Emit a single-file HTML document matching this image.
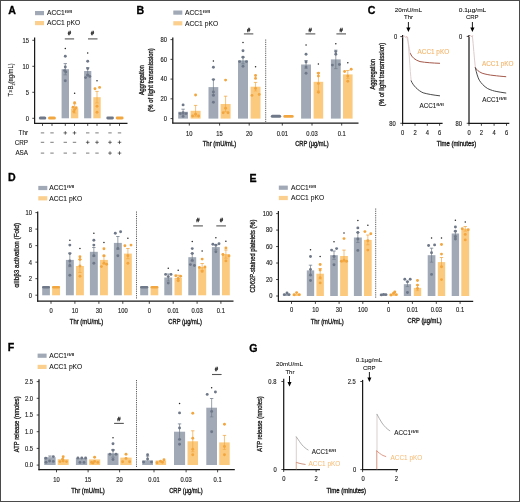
<!DOCTYPE html>
<html><head><meta charset="utf-8"><style>
html,body{margin:0;padding:0;background:#fff;}
svg{display:block;font-family:"Liberation Sans", sans-serif;filter:blur(0.35px);}
</style></head><body>
<svg width="520" height="502" viewBox="0 0 520 502">
<rect width="520" height="502" fill="#fff"/>
<rect x="0.5" y="0.5" width="519" height="501" fill="none" stroke="#4a4a4a" stroke-width="1"/>
<text x="8.13" y="14.49" font-size="10.6" font-weight="bold" fill="#000" stroke="#000" stroke-width="0.3">A</text>
<rect x="35.00" y="11.00" width="9.00" height="4.20" fill="#a0a9b5"/>
<rect x="35.00" y="21.00" width="9.00" height="4.20" fill="#fbcf8e"/>
<text x="47.00" y="15.41" font-size="6.7" text-anchor="start" fill="#1a1a1a" stroke="#1a1a1a" stroke-width="0.1">ACC1<tspan font-size="4.4" dy="-2.1" textLength="7.4" lengthAdjust="spacingAndGlyphs">fl/fl</tspan></text>
<text x="47.00" y="25.41" font-size="6.7" text-anchor="start" fill="#1a1a1a" stroke="#1a1a1a" stroke-width="0.1">ACC1 pKO</text>
<line x1="34.60" y1="37.50" x2="34.60" y2="123.80" stroke="#1a1a1a" stroke-width="1.25"/>
<line x1="34.10" y1="123.30" x2="127.50" y2="123.30" stroke="#1a1a1a" stroke-width="1.25"/>
<line x1="32.30" y1="118.30" x2="34.60" y2="118.30" stroke="#1a1a1a" stroke-width="0.8"/>
<text x="29.00" y="120.68" font-size="6.6" text-anchor="end" fill="#222" textLength="3.23" lengthAdjust="spacingAndGlyphs" stroke="#222" stroke-width="0.14">0</text>
<line x1="32.30" y1="92.30" x2="34.60" y2="92.30" stroke="#1a1a1a" stroke-width="0.8"/>
<text x="29.00" y="94.68" font-size="6.6" text-anchor="end" fill="#222" textLength="3.23" lengthAdjust="spacingAndGlyphs" stroke="#222" stroke-width="0.14">5</text>
<line x1="32.30" y1="66.30" x2="34.60" y2="66.30" stroke="#1a1a1a" stroke-width="0.8"/>
<text x="29.00" y="68.68" font-size="6.6" text-anchor="end" fill="#222" textLength="6.46" lengthAdjust="spacingAndGlyphs" stroke="#222" stroke-width="0.14">10</text>
<line x1="32.30" y1="40.30" x2="34.60" y2="40.30" stroke="#1a1a1a" stroke-width="0.8"/>
<text x="29.00" y="42.68" font-size="6.6" text-anchor="end" fill="#222" textLength="6.46" lengthAdjust="spacingAndGlyphs" stroke="#222" stroke-width="0.14">15</text>
<text transform="translate(10.60,79.90) rotate(-90)" x="0" y="2.52" font-size="7.0" text-anchor="middle" fill="#1a1a1a" textLength="33" lengthAdjust="spacingAndGlyphs" stroke="#1a1a1a" stroke-width="0.12">T×B<tspan font-size="4.4" dy="1.6">2</tspan><tspan dy="-1.6">(ng/mL)</tspan></text>
<line x1="42.50" y1="123.30" x2="42.50" y2="125.90" stroke="#1a1a1a" stroke-width="0.8"/>
<line x1="52.00" y1="123.30" x2="52.00" y2="125.90" stroke="#1a1a1a" stroke-width="0.8"/>
<line x1="65.30" y1="123.30" x2="65.30" y2="125.90" stroke="#1a1a1a" stroke-width="0.8"/>
<line x1="74.50" y1="123.30" x2="74.50" y2="125.90" stroke="#1a1a1a" stroke-width="0.8"/>
<line x1="87.70" y1="123.30" x2="87.70" y2="125.90" stroke="#1a1a1a" stroke-width="0.8"/>
<line x1="97.00" y1="123.30" x2="97.00" y2="125.90" stroke="#1a1a1a" stroke-width="0.8"/>
<line x1="110.00" y1="123.30" x2="110.00" y2="125.90" stroke="#1a1a1a" stroke-width="0.8"/>
<line x1="119.50" y1="123.30" x2="119.50" y2="125.90" stroke="#1a1a1a" stroke-width="0.8"/>
<rect x="38.80" y="116.60" width="7.50" height="3.00" rx="1.50" fill="#6e7888"/>
<rect x="48.00" y="116.60" width="7.90" height="3.00" rx="1.50" fill="#f2a640"/>
<rect x="106.30" y="116.60" width="7.60" height="2.80" rx="1.40" fill="#6e7888"/>
<rect x="115.70" y="116.60" width="7.90" height="2.80" rx="1.40" fill="#f2a640"/>
<rect x="61.60" y="69.20" width="7.40" height="49.10" fill="#a0a9b5"/>
<line x1="65.30" y1="74.80" x2="65.30" y2="63.60" stroke="#6e7888" stroke-width="0.7"/>
<line x1="63.60" y1="63.60" x2="67.00" y2="63.60" stroke="#6e7888" stroke-width="0.75"/>
<line x1="63.60" y1="74.80" x2="67.00" y2="74.80" stroke="#6e7888" stroke-width="0.6"/>
<circle cx="65.30" cy="56.20" r="1.45" fill="#6e7888"/>
<circle cx="65.30" cy="67.00" r="1.45" fill="#6e7888"/>
<circle cx="64.60" cy="70.60" r="1.45" fill="#6e7888"/>
<circle cx="65.80" cy="72.00" r="1.45" fill="#6e7888"/>
<circle cx="65.30" cy="80.80" r="1.45" fill="#6e7888"/>
<circle cx="65.30" cy="48.60" r="0.75" fill="#222"/>
<rect x="70.90" y="108.40" width="7.40" height="9.90" fill="#fcca7e"/>
<line x1="74.60" y1="113.00" x2="74.60" y2="103.80" stroke="#f2a640" stroke-width="0.7"/>
<line x1="72.90" y1="103.80" x2="76.30" y2="103.80" stroke="#f2a640" stroke-width="0.75"/>
<line x1="72.90" y1="113.00" x2="76.30" y2="113.00" stroke="#f2a640" stroke-width="0.6"/>
<circle cx="74.60" cy="102.80" r="1.45" fill="#f2a640"/>
<circle cx="73.00" cy="107.20" r="1.45" fill="#f2a640"/>
<circle cx="76.20" cy="107.80" r="1.45" fill="#f2a640"/>
<circle cx="73.80" cy="111.60" r="1.45" fill="#f2a640"/>
<circle cx="74.60" cy="109.60" r="1.45" fill="#f2a640"/>
<circle cx="74.60" cy="93.20" r="0.75" fill="#222"/>
<rect x="84.10" y="71.00" width="7.20" height="47.30" fill="#a0a9b5"/>
<line x1="87.70" y1="74.40" x2="87.70" y2="67.60" stroke="#6e7888" stroke-width="0.7"/>
<line x1="86.00" y1="67.60" x2="89.40" y2="67.60" stroke="#6e7888" stroke-width="0.75"/>
<line x1="86.00" y1="74.40" x2="89.40" y2="74.40" stroke="#6e7888" stroke-width="0.6"/>
<circle cx="87.70" cy="61.20" r="1.45" fill="#6e7888"/>
<circle cx="87.70" cy="68.60" r="1.45" fill="#6e7888"/>
<circle cx="85.60" cy="77.60" r="1.45" fill="#6e7888"/>
<circle cx="89.80" cy="76.40" r="1.45" fill="#6e7888"/>
<circle cx="87.70" cy="75.20" r="1.45" fill="#6e7888"/>
<circle cx="87.70" cy="53.00" r="0.75" fill="#222"/>
<rect x="93.30" y="97.20" width="7.40" height="21.10" fill="#fcca7e"/>
<line x1="97.00" y1="103.00" x2="97.00" y2="91.40" stroke="#f2a640" stroke-width="0.7"/>
<line x1="95.30" y1="91.40" x2="98.70" y2="91.40" stroke="#f2a640" stroke-width="0.75"/>
<line x1="95.30" y1="103.00" x2="98.70" y2="103.00" stroke="#f2a640" stroke-width="0.6"/>
<circle cx="95.00" cy="88.80" r="1.45" fill="#f2a640"/>
<circle cx="99.60" cy="87.40" r="1.45" fill="#f2a640"/>
<circle cx="97.00" cy="106.20" r="1.45" fill="#f2a640"/>
<circle cx="97.00" cy="112.20" r="1.45" fill="#f2a640"/>
<circle cx="97.00" cy="80.80" r="0.75" fill="#222"/>
<text x="28.00" y="135.17" font-size="6.3" text-anchor="end" fill="#1a1a1a" stroke="#1a1a1a" stroke-width="0.1">Thr</text>
<line x1="40.80" y1="132.90" x2="44.20" y2="132.90" stroke="#333" stroke-width="0.65"/>
<line x1="50.30" y1="132.90" x2="53.70" y2="132.90" stroke="#333" stroke-width="0.65"/>
<line x1="63.50" y1="132.90" x2="67.10" y2="132.90" stroke="#222" stroke-width="0.65"/>
<line x1="65.30" y1="131.10" x2="65.30" y2="134.70" stroke="#222" stroke-width="0.65"/>
<line x1="72.70" y1="132.90" x2="76.30" y2="132.90" stroke="#222" stroke-width="0.65"/>
<line x1="74.50" y1="131.10" x2="74.50" y2="134.70" stroke="#222" stroke-width="0.65"/>
<line x1="86.00" y1="132.90" x2="89.40" y2="132.90" stroke="#333" stroke-width="0.65"/>
<line x1="95.30" y1="132.90" x2="98.70" y2="132.90" stroke="#333" stroke-width="0.65"/>
<line x1="108.30" y1="132.90" x2="111.70" y2="132.90" stroke="#333" stroke-width="0.65"/>
<line x1="117.80" y1="132.90" x2="121.20" y2="132.90" stroke="#333" stroke-width="0.65"/>
<text x="28.00" y="144.57" font-size="6.3" text-anchor="end" fill="#1a1a1a" stroke="#1a1a1a" stroke-width="0.1">CRP</text>
<line x1="40.80" y1="142.30" x2="44.20" y2="142.30" stroke="#333" stroke-width="0.65"/>
<line x1="50.30" y1="142.30" x2="53.70" y2="142.30" stroke="#333" stroke-width="0.65"/>
<line x1="63.60" y1="142.30" x2="67.00" y2="142.30" stroke="#333" stroke-width="0.65"/>
<line x1="72.80" y1="142.30" x2="76.20" y2="142.30" stroke="#333" stroke-width="0.65"/>
<line x1="85.90" y1="142.30" x2="89.50" y2="142.30" stroke="#222" stroke-width="0.65"/>
<line x1="87.70" y1="140.50" x2="87.70" y2="144.10" stroke="#222" stroke-width="0.65"/>
<line x1="95.20" y1="142.30" x2="98.80" y2="142.30" stroke="#222" stroke-width="0.65"/>
<line x1="97.00" y1="140.50" x2="97.00" y2="144.10" stroke="#222" stroke-width="0.65"/>
<line x1="108.20" y1="142.30" x2="111.80" y2="142.30" stroke="#222" stroke-width="0.65"/>
<line x1="110.00" y1="140.50" x2="110.00" y2="144.10" stroke="#222" stroke-width="0.65"/>
<line x1="117.70" y1="142.30" x2="121.30" y2="142.30" stroke="#222" stroke-width="0.65"/>
<line x1="119.50" y1="140.50" x2="119.50" y2="144.10" stroke="#222" stroke-width="0.65"/>
<text x="28.00" y="155.37" font-size="6.3" text-anchor="end" fill="#1a1a1a" stroke="#1a1a1a" stroke-width="0.1">ASA</text>
<line x1="40.80" y1="153.10" x2="44.20" y2="153.10" stroke="#333" stroke-width="0.65"/>
<line x1="50.30" y1="153.10" x2="53.70" y2="153.10" stroke="#333" stroke-width="0.65"/>
<line x1="63.60" y1="153.10" x2="67.00" y2="153.10" stroke="#333" stroke-width="0.65"/>
<line x1="72.80" y1="153.10" x2="76.20" y2="153.10" stroke="#333" stroke-width="0.65"/>
<line x1="86.00" y1="153.10" x2="89.40" y2="153.10" stroke="#333" stroke-width="0.65"/>
<line x1="95.30" y1="153.10" x2="98.70" y2="153.10" stroke="#333" stroke-width="0.65"/>
<line x1="108.20" y1="153.10" x2="111.80" y2="153.10" stroke="#222" stroke-width="0.65"/>
<line x1="110.00" y1="151.30" x2="110.00" y2="154.90" stroke="#222" stroke-width="0.65"/>
<line x1="117.70" y1="153.10" x2="121.30" y2="153.10" stroke="#222" stroke-width="0.65"/>
<line x1="119.50" y1="151.30" x2="119.50" y2="154.90" stroke="#222" stroke-width="0.65"/>
<text x="136.39" y="14.19" font-size="10.6" font-weight="bold" fill="#000" stroke="#000" stroke-width="0.3">B</text>
<rect x="173.30" y="10.50" width="9.00" height="4.20" fill="#a0a9b5"/>
<rect x="173.30" y="21.20" width="9.00" height="4.20" fill="#fbcf8e"/>
<text x="185.00" y="14.91" font-size="6.7" text-anchor="start" fill="#1a1a1a" stroke="#1a1a1a" stroke-width="0.1">ACC1<tspan font-size="4.4" dy="-2.1" textLength="7.4" lengthAdjust="spacingAndGlyphs">fl/fl</tspan></text>
<text x="185.00" y="25.61" font-size="6.7" text-anchor="start" fill="#1a1a1a" stroke="#1a1a1a" stroke-width="0.1">ACC1 pKO</text>
<line x1="172.80" y1="37.50" x2="172.80" y2="123.50" stroke="#1a1a1a" stroke-width="1.25"/>
<line x1="172.30" y1="123.00" x2="358.50" y2="123.00" stroke="#1a1a1a" stroke-width="1.25"/>
<line x1="170.50" y1="118.60" x2="172.80" y2="118.60" stroke="#1a1a1a" stroke-width="0.8"/>
<text x="167.00" y="120.98" font-size="6.6" text-anchor="end" fill="#222" textLength="3.23" lengthAdjust="spacingAndGlyphs" stroke="#222" stroke-width="0.14">0</text>
<line x1="170.50" y1="98.85" x2="172.80" y2="98.85" stroke="#1a1a1a" stroke-width="0.8"/>
<text x="167.00" y="101.23" font-size="6.6" text-anchor="end" fill="#222" textLength="6.46" lengthAdjust="spacingAndGlyphs" stroke="#222" stroke-width="0.14">20</text>
<line x1="170.50" y1="79.10" x2="172.80" y2="79.10" stroke="#1a1a1a" stroke-width="0.8"/>
<text x="167.00" y="81.48" font-size="6.6" text-anchor="end" fill="#222" textLength="6.46" lengthAdjust="spacingAndGlyphs" stroke="#222" stroke-width="0.14">40</text>
<line x1="170.50" y1="59.35" x2="172.80" y2="59.35" stroke="#1a1a1a" stroke-width="0.8"/>
<text x="167.00" y="61.73" font-size="6.6" text-anchor="end" fill="#222" textLength="6.46" lengthAdjust="spacingAndGlyphs" stroke="#222" stroke-width="0.14">60</text>
<line x1="170.50" y1="39.60" x2="172.80" y2="39.60" stroke="#1a1a1a" stroke-width="0.8"/>
<text x="167.00" y="41.98" font-size="6.6" text-anchor="end" fill="#222" textLength="6.46" lengthAdjust="spacingAndGlyphs" stroke="#222" stroke-width="0.14">80</text>
<text transform="translate(141.30,80.10) rotate(-90)" x="0" y="2.38" font-size="6.6" text-anchor="middle" fill="#1a1a1a" textLength="30" lengthAdjust="spacingAndGlyphs" stroke="#1a1a1a" stroke-width="0.3">Aggregation</text>
<text transform="translate(150.90,79.90) rotate(-90)" x="0" y="2.38" font-size="6.6" text-anchor="middle" fill="#1a1a1a" textLength="63.5" lengthAdjust="spacingAndGlyphs" stroke="#1a1a1a" stroke-width="0.3">(% of light transmission)</text>
<line x1="189.30" y1="123.00" x2="189.30" y2="125.60" stroke="#1a1a1a" stroke-width="0.8"/>
<text x="189.30" y="135.58" font-size="6.6" text-anchor="middle" fill="#222" textLength="6.46" lengthAdjust="spacingAndGlyphs" stroke="#222" stroke-width="0.14">10</text>
<line x1="219.60" y1="123.00" x2="219.60" y2="125.60" stroke="#1a1a1a" stroke-width="0.8"/>
<text x="219.60" y="135.58" font-size="6.6" text-anchor="middle" fill="#222" textLength="6.46" lengthAdjust="spacingAndGlyphs" stroke="#222" stroke-width="0.14">15</text>
<line x1="249.20" y1="123.00" x2="249.20" y2="125.60" stroke="#1a1a1a" stroke-width="0.8"/>
<text x="249.20" y="135.58" font-size="6.6" text-anchor="middle" fill="#222" textLength="6.46" lengthAdjust="spacingAndGlyphs" stroke="#222" stroke-width="0.14">20</text>
<line x1="282.30" y1="123.00" x2="282.30" y2="125.60" stroke="#1a1a1a" stroke-width="0.8"/>
<text x="282.30" y="135.58" font-size="6.6" text-anchor="middle" fill="#222" textLength="11.3" lengthAdjust="spacingAndGlyphs" stroke="#222" stroke-width="0.14">0.01</text>
<line x1="312.00" y1="123.00" x2="312.00" y2="125.60" stroke="#1a1a1a" stroke-width="0.8"/>
<text x="312.00" y="135.58" font-size="6.6" text-anchor="middle" fill="#222" textLength="11.3" lengthAdjust="spacingAndGlyphs" stroke="#222" stroke-width="0.14">0.03</text>
<line x1="341.70" y1="123.00" x2="341.70" y2="125.60" stroke="#1a1a1a" stroke-width="0.8"/>
<text x="341.70" y="135.58" font-size="6.6" text-anchor="middle" fill="#222" textLength="8.07" lengthAdjust="spacingAndGlyphs" stroke="#222" stroke-width="0.14">0.1</text>
<rect x="178.20" y="111.80" width="9.80" height="6.80" fill="#a0a9b5"/>
<line x1="183.10" y1="114.40" x2="183.10" y2="109.20" stroke="#6e7888" stroke-width="0.7"/>
<line x1="181.40" y1="109.20" x2="184.80" y2="109.20" stroke="#6e7888" stroke-width="0.75"/>
<line x1="181.40" y1="114.40" x2="184.80" y2="114.40" stroke="#6e7888" stroke-width="0.6"/>
<circle cx="183.10" cy="104.90" r="1.45" fill="#6e7888"/>
<circle cx="180.20" cy="113.60" r="1.45" fill="#6e7888"/>
<circle cx="183.10" cy="112.80" r="1.45" fill="#6e7888"/>
<circle cx="186.00" cy="113.60" r="1.45" fill="#6e7888"/>
<circle cx="183.10" cy="116.40" r="1.45" fill="#6e7888"/>
<rect x="190.60" y="110.80" width="10.00" height="7.80" fill="#fcca7e"/>
<line x1="195.60" y1="116.20" x2="195.60" y2="105.40" stroke="#f2a640" stroke-width="0.7"/>
<line x1="193.90" y1="105.40" x2="197.30" y2="105.40" stroke="#f2a640" stroke-width="0.75"/>
<line x1="193.90" y1="116.20" x2="197.30" y2="116.20" stroke="#f2a640" stroke-width="0.6"/>
<circle cx="195.60" cy="95.00" r="1.45" fill="#f2a640"/>
<circle cx="192.60" cy="116.00" r="1.45" fill="#f2a640"/>
<circle cx="198.60" cy="116.00" r="1.45" fill="#f2a640"/>
<circle cx="195.60" cy="114.20" r="1.45" fill="#f2a640"/>
<rect x="208.50" y="87.10" width="9.80" height="31.50" fill="#a0a9b5"/>
<line x1="213.40" y1="94.80" x2="213.40" y2="79.40" stroke="#6e7888" stroke-width="0.7"/>
<line x1="211.70" y1="79.40" x2="215.10" y2="79.40" stroke="#6e7888" stroke-width="0.75"/>
<line x1="211.70" y1="94.80" x2="215.10" y2="94.80" stroke="#6e7888" stroke-width="0.6"/>
<circle cx="213.40" cy="67.30" r="1.45" fill="#6e7888"/>
<circle cx="213.40" cy="79.60" r="1.45" fill="#6e7888"/>
<circle cx="213.40" cy="91.90" r="1.45" fill="#6e7888"/>
<circle cx="213.40" cy="95.40" r="1.45" fill="#6e7888"/>
<circle cx="213.40" cy="102.30" r="1.45" fill="#6e7888"/>
<circle cx="213.40" cy="61.10" r="0.75" fill="#222"/>
<rect x="220.60" y="104.00" width="10.00" height="14.60" fill="#fcca7e"/>
<line x1="225.60" y1="111.80" x2="225.60" y2="96.20" stroke="#f2a640" stroke-width="0.7"/>
<line x1="223.90" y1="96.20" x2="227.30" y2="96.20" stroke="#f2a640" stroke-width="0.75"/>
<line x1="223.90" y1="111.80" x2="227.30" y2="111.80" stroke="#f2a640" stroke-width="0.6"/>
<circle cx="225.60" cy="80.10" r="1.45" fill="#f2a640"/>
<circle cx="225.60" cy="108.30" r="1.45" fill="#f2a640"/>
<circle cx="223.20" cy="112.70" r="1.45" fill="#f2a640"/>
<circle cx="228.00" cy="112.70" r="1.45" fill="#f2a640"/>
<rect x="238.00" y="60.40" width="10.00" height="58.20" fill="#a0a9b5"/>
<line x1="243.00" y1="63.80" x2="243.00" y2="57.00" stroke="#6e7888" stroke-width="0.7"/>
<line x1="241.30" y1="57.00" x2="244.70" y2="57.00" stroke="#6e7888" stroke-width="0.75"/>
<line x1="241.30" y1="63.80" x2="244.70" y2="63.80" stroke="#6e7888" stroke-width="0.6"/>
<circle cx="243.00" cy="50.70" r="1.45" fill="#6e7888"/>
<circle cx="243.00" cy="57.30" r="1.45" fill="#6e7888"/>
<circle cx="239.60" cy="61.60" r="1.45" fill="#6e7888"/>
<circle cx="246.40" cy="61.60" r="1.45" fill="#6e7888"/>
<circle cx="243.00" cy="66.30" r="1.45" fill="#6e7888"/>
<circle cx="243.00" cy="42.60" r="0.75" fill="#222"/>
<rect x="250.60" y="86.70" width="9.90" height="31.90" fill="#fcca7e"/>
<line x1="255.55" y1="91.00" x2="255.55" y2="82.40" stroke="#f2a640" stroke-width="0.7"/>
<line x1="253.85" y1="82.40" x2="257.25" y2="82.40" stroke="#f2a640" stroke-width="0.75"/>
<line x1="253.85" y1="91.00" x2="257.25" y2="91.00" stroke="#f2a640" stroke-width="0.6"/>
<circle cx="255.55" cy="75.50" r="1.45" fill="#f2a640"/>
<circle cx="255.55" cy="78.40" r="1.45" fill="#f2a640"/>
<circle cx="255.55" cy="88.40" r="1.45" fill="#f2a640"/>
<circle cx="252.00" cy="95.40" r="1.45" fill="#f2a640"/>
<circle cx="259.20" cy="94.50" r="1.45" fill="#f2a640"/>
<circle cx="255.55" cy="66.80" r="0.75" fill="#222"/>
<rect x="270.80" y="114.70" width="10.40" height="3.00" rx="1.50" fill="#6e7888"/>
<rect x="283.30" y="115.10" width="10.40" height="2.60" rx="1.30" fill="#f2a640"/>
<rect x="301.10" y="64.50" width="9.90" height="54.10" fill="#a0a9b5"/>
<line x1="306.05" y1="68.40" x2="306.05" y2="60.60" stroke="#6e7888" stroke-width="0.7"/>
<line x1="304.35" y1="60.60" x2="307.75" y2="60.60" stroke="#6e7888" stroke-width="0.75"/>
<line x1="304.35" y1="68.40" x2="307.75" y2="68.40" stroke="#6e7888" stroke-width="0.6"/>
<circle cx="306.05" cy="54.20" r="1.45" fill="#6e7888"/>
<circle cx="306.05" cy="62.00" r="1.45" fill="#6e7888"/>
<circle cx="306.05" cy="67.10" r="1.45" fill="#6e7888"/>
<circle cx="306.05" cy="73.20" r="1.45" fill="#6e7888"/>
<circle cx="306.05" cy="45.00" r="0.75" fill="#222"/>
<rect x="313.60" y="81.80" width="9.60" height="36.80" fill="#fcca7e"/>
<line x1="318.40" y1="90.90" x2="318.40" y2="72.70" stroke="#f2a640" stroke-width="0.7"/>
<line x1="316.70" y1="72.70" x2="320.10" y2="72.70" stroke="#f2a640" stroke-width="0.75"/>
<line x1="316.70" y1="90.90" x2="320.10" y2="90.90" stroke="#f2a640" stroke-width="0.6"/>
<circle cx="318.40" cy="73.20" r="1.45" fill="#f2a640"/>
<circle cx="318.40" cy="76.10" r="1.45" fill="#f2a640"/>
<circle cx="318.40" cy="83.60" r="1.45" fill="#f2a640"/>
<circle cx="318.40" cy="92.20" r="1.45" fill="#f2a640"/>
<circle cx="318.40" cy="64.00" r="0.75" fill="#222"/>
<rect x="330.90" y="59.40" width="9.80" height="59.20" fill="#a0a9b5"/>
<line x1="335.80" y1="68.60" x2="335.80" y2="50.20" stroke="#6e7888" stroke-width="0.7"/>
<line x1="334.10" y1="50.20" x2="337.50" y2="50.20" stroke="#6e7888" stroke-width="0.75"/>
<line x1="334.10" y1="68.60" x2="337.50" y2="68.60" stroke="#6e7888" stroke-width="0.6"/>
<circle cx="335.80" cy="51.60" r="1.45" fill="#6e7888"/>
<circle cx="335.80" cy="54.20" r="1.45" fill="#6e7888"/>
<circle cx="332.40" cy="65.10" r="1.45" fill="#6e7888"/>
<circle cx="339.40" cy="64.50" r="1.45" fill="#6e7888"/>
<circle cx="335.80" cy="43.80" r="0.75" fill="#222"/>
<rect x="343.00" y="74.40" width="9.60" height="44.20" fill="#fcca7e"/>
<line x1="347.80" y1="78.30" x2="347.80" y2="70.50" stroke="#f2a640" stroke-width="0.7"/>
<line x1="346.10" y1="70.50" x2="349.50" y2="70.50" stroke="#f2a640" stroke-width="0.75"/>
<line x1="346.10" y1="78.30" x2="349.50" y2="78.30" stroke="#f2a640" stroke-width="0.6"/>
<circle cx="344.60" cy="71.50" r="1.45" fill="#f2a640"/>
<circle cx="351.20" cy="69.20" r="1.45" fill="#f2a640"/>
<circle cx="347.80" cy="76.10" r="1.45" fill="#f2a640"/>
<circle cx="347.80" cy="81.30" r="1.45" fill="#f2a640"/>
<circle cx="347.80" cy="62.80" r="0.75" fill="#222"/>
<line x1="265.70" y1="39.50" x2="265.70" y2="122.00" stroke="#333" stroke-width="0.8" stroke-dasharray="1.2,1.0"/>
<text x="219.50" y="146.49" font-size="7.2" text-anchor="middle" fill="#1a1a1a" textLength="33.5" lengthAdjust="spacingAndGlyphs" stroke="#1a1a1a" stroke-width="0.35">Thr (mU/mL)</text>
<text x="311.90" y="146.49" font-size="7.2" text-anchor="middle" fill="#1a1a1a" textLength="33.5" lengthAdjust="spacingAndGlyphs" stroke="#1a1a1a" stroke-width="0.35">CRP (µg/mL)</text>
<text x="367.67" y="14.00" font-size="10.6" font-weight="bold" fill="#000" stroke="#000" stroke-width="0.3">C</text>
<line x1="402.60" y1="35.00" x2="402.60" y2="123.80" stroke="#1a1a1a" stroke-width="1.25"/>
<line x1="402.10" y1="123.30" x2="442.60" y2="123.30" stroke="#1a1a1a" stroke-width="1.25"/>
<line x1="400.30" y1="36.60" x2="402.60" y2="36.60" stroke="#1a1a1a" stroke-width="0.8"/>
<text x="395.50" y="38.98" font-size="6.6" text-anchor="middle" fill="#222" textLength="3.23" lengthAdjust="spacingAndGlyphs" stroke="#222" stroke-width="0.14">0</text>
<line x1="400.30" y1="123.30" x2="402.60" y2="123.30" stroke="#1a1a1a" stroke-width="0.8"/>
<text x="392.60" y="125.68" font-size="6.6" text-anchor="middle" fill="#222" textLength="6.46" lengthAdjust="spacingAndGlyphs" stroke="#222" stroke-width="0.14">80</text>
<line x1="402.60" y1="123.30" x2="402.60" y2="125.80" stroke="#1a1a1a" stroke-width="0.8"/>
<text x="402.60" y="134.58" font-size="6.6" text-anchor="middle" fill="#222" textLength="3.23" lengthAdjust="spacingAndGlyphs" stroke="#222" stroke-width="0.14">0</text>
<line x1="415.00" y1="123.30" x2="415.00" y2="125.80" stroke="#1a1a1a" stroke-width="0.8"/>
<text x="415.00" y="134.58" font-size="6.6" text-anchor="middle" fill="#222" textLength="3.23" lengthAdjust="spacingAndGlyphs" stroke="#222" stroke-width="0.14">2</text>
<line x1="427.30" y1="123.30" x2="427.30" y2="125.80" stroke="#1a1a1a" stroke-width="0.8"/>
<text x="427.30" y="134.58" font-size="6.6" text-anchor="middle" fill="#222" textLength="3.23" lengthAdjust="spacingAndGlyphs" stroke="#222" stroke-width="0.14">4</text>
<line x1="439.60" y1="123.30" x2="439.60" y2="125.80" stroke="#1a1a1a" stroke-width="0.8"/>
<text x="439.60" y="134.58" font-size="6.6" text-anchor="middle" fill="#222" textLength="3.23" lengthAdjust="spacingAndGlyphs" stroke="#222" stroke-width="0.14">6</text>
<text x="408.40" y="11.96" font-size="6.0" text-anchor="middle" fill="#1a1a1a" textLength="27.5" lengthAdjust="spacingAndGlyphs" stroke="#1a1a1a" stroke-width="0.1">20mU/mL</text>
<text x="408.60" y="19.16" font-size="6.0" text-anchor="middle" fill="#1a1a1a" stroke="#1a1a1a" stroke-width="0.1">Thr</text>
<line x1="408.40" y1="22.00" x2="408.40" y2="29.50" stroke="#000" stroke-width="0.9"/>
<path d="M406.3,27.6 L410.5,27.6 L408.4,32.0 Z" fill="#000"/>
<path d="M402.8,37.0 L404.2,35.8 L405.6,37.4 L406.8,36.4 L407.6,37.6" stroke="#dcb8b8" stroke-width="0.9" fill="none" stroke-linejoin="round" stroke-linecap="round"/>
<path d="M406.8,37.6 C408,40 409,47 410.3,53.5" stroke="#d9c4c4" stroke-width="0.8" fill="none" stroke-linejoin="round" stroke-linecap="round"/>
<path d="M410.3,53.5 C412,57.5 415,60 420,61.6 C426,62.6 432,63 439.6,63.3" stroke="#a4584a" stroke-width="1.0" fill="none" stroke-linejoin="round" stroke-linecap="round"/>
<path d="M407.8,38 C409,50 410,70 411.2,80.9" stroke="#d9c4c4" stroke-width="0.8" fill="none" stroke-linejoin="round" stroke-linecap="round"/>
<path d="M411.2,80.9 C413,85.5 418,90.5 423.1,92.8 C428,94.2 433,95 439.6,95.8" stroke="#4a4a4a" stroke-width="1.0" fill="none" stroke-linejoin="round" stroke-linecap="round"/>
<text x="417.50" y="53.80" font-size="6.4" text-anchor="start" fill="#f3b469" stroke="#f3b469" stroke-width="0.1">ACC1 pKO</text>
<text x="419.50" y="107.97" font-size="6.3" text-anchor="start" fill="#1a1a1a" stroke="#1a1a1a" stroke-width="0.1">ACC1<tspan font-size="4.4" dy="-2.1" textLength="7.4" lengthAdjust="spacingAndGlyphs">fl/fl</tspan></text>
<text transform="translate(372.30,74.30) rotate(-90)" x="0" y="2.38" font-size="6.6" text-anchor="middle" fill="#1a1a1a" textLength="30.5" lengthAdjust="spacingAndGlyphs" stroke="#1a1a1a" stroke-width="0.3">Aggregation</text>
<text transform="translate(381.90,74.50) rotate(-90)" x="0" y="2.38" font-size="6.6" text-anchor="middle" fill="#1a1a1a" textLength="63.5" lengthAdjust="spacingAndGlyphs" stroke="#1a1a1a" stroke-width="0.3">(% of light transmission)</text>
<line x1="469.00" y1="35.00" x2="469.00" y2="123.80" stroke="#1a1a1a" stroke-width="1.25"/>
<line x1="468.50" y1="123.30" x2="509.30" y2="123.30" stroke="#1a1a1a" stroke-width="1.25"/>
<line x1="466.70" y1="36.40" x2="469.00" y2="36.40" stroke="#1a1a1a" stroke-width="0.8"/>
<text x="460.60" y="38.78" font-size="6.6" text-anchor="middle" fill="#222" textLength="3.23" lengthAdjust="spacingAndGlyphs" stroke="#222" stroke-width="0.14">0</text>
<line x1="466.70" y1="123.30" x2="469.00" y2="123.30" stroke="#1a1a1a" stroke-width="0.8"/>
<text x="458.80" y="125.68" font-size="6.6" text-anchor="middle" fill="#222" textLength="6.46" lengthAdjust="spacingAndGlyphs" stroke="#222" stroke-width="0.14">80</text>
<line x1="469.00" y1="123.30" x2="469.00" y2="125.80" stroke="#1a1a1a" stroke-width="0.8"/>
<text x="469.00" y="134.58" font-size="6.6" text-anchor="middle" fill="#222" textLength="3.23" lengthAdjust="spacingAndGlyphs" stroke="#222" stroke-width="0.14">0</text>
<line x1="481.40" y1="123.30" x2="481.40" y2="125.80" stroke="#1a1a1a" stroke-width="0.8"/>
<text x="481.40" y="134.58" font-size="6.6" text-anchor="middle" fill="#222" textLength="3.23" lengthAdjust="spacingAndGlyphs" stroke="#222" stroke-width="0.14">2</text>
<line x1="494.10" y1="123.30" x2="494.10" y2="125.80" stroke="#1a1a1a" stroke-width="0.8"/>
<text x="494.10" y="134.58" font-size="6.6" text-anchor="middle" fill="#222" textLength="3.23" lengthAdjust="spacingAndGlyphs" stroke="#222" stroke-width="0.14">4</text>
<line x1="506.50" y1="123.30" x2="506.50" y2="125.80" stroke="#1a1a1a" stroke-width="0.8"/>
<text x="506.50" y="134.58" font-size="6.6" text-anchor="middle" fill="#222" textLength="3.23" lengthAdjust="spacingAndGlyphs" stroke="#222" stroke-width="0.14">6</text>
<text x="472.50" y="12.16" font-size="6.0" text-anchor="middle" fill="#1a1a1a" textLength="27.5" lengthAdjust="spacingAndGlyphs" stroke="#1a1a1a" stroke-width="0.1">0.1µg/mL</text>
<text x="472.30" y="18.96" font-size="6.0" text-anchor="middle" fill="#1a1a1a" stroke="#1a1a1a" stroke-width="0.1">CRP</text>
<line x1="472.40" y1="22.00" x2="472.40" y2="29.50" stroke="#000" stroke-width="0.9"/>
<path d="M470.3,27.6 L474.5,27.6 L472.4,32.0 Z" fill="#000"/>
<path d="M469.2,36.8 L470.6,35.6 L472.0,36.8 L472.6,35.8" stroke="#dcb8b8" stroke-width="0.9" fill="none" stroke-linejoin="round" stroke-linecap="round"/>
<path d="M472.4,36.0 C473.4,45 474.2,58 475.4,67.8" stroke="#d9c4c4" stroke-width="0.9" fill="none" stroke-linejoin="round" stroke-linecap="round"/>
<path d="M475.4,67.8 C476.5,69.8 478.5,71.5 482.1,73.2 C486,74.4 490,75.1 493,75.4 C498,76.0 502,76.4 505.8,76.7" stroke="#a4584a" stroke-width="1.0" fill="none" stroke-linejoin="round" stroke-linecap="round"/>
<path d="M475.4,67.8 C476.5,73 477.8,77.5 479.3,80.2 C481,83 484,86.4 487.7,88.6 C491,90.2 494,91 496.1,91.4 C499,92 502.5,92.6 505.8,93.0" stroke="#4a4a4a" stroke-width="1.0" fill="none" stroke-linejoin="round" stroke-linecap="round"/>
<text x="481.90" y="65.90" font-size="6.4" text-anchor="start" fill="#f3b469" stroke="#f3b469" stroke-width="0.1">ACC1 pKO</text>
<text x="482.30" y="101.77" font-size="6.3" text-anchor="start" fill="#1a1a1a" stroke="#1a1a1a" stroke-width="0.1">ACC1<tspan font-size="4.4" dy="-2.1" textLength="7.4" lengthAdjust="spacingAndGlyphs">fl/fl</tspan></text>
<text x="456.50" y="146.09" font-size="7.2" text-anchor="middle" fill="#1a1a1a" textLength="39.5" lengthAdjust="spacingAndGlyphs" stroke="#1a1a1a" stroke-width="0.35">Time (minutes)</text>
<text x="7.99" y="181.39" font-size="10.6" font-weight="bold" fill="#000" stroke="#000" stroke-width="0.3">D</text>
<rect x="38.30" y="185.90" width="9.00" height="4.20" fill="#a0a9b5"/>
<rect x="38.30" y="196.20" width="9.00" height="4.20" fill="#fbcf8e"/>
<text x="49.20" y="190.31" font-size="6.7" text-anchor="start" fill="#1a1a1a" stroke="#1a1a1a" stroke-width="0.1">ACC1<tspan font-size="4.4" dy="-2.1" textLength="7.4" lengthAdjust="spacingAndGlyphs">fl/fl</tspan></text>
<text x="49.20" y="200.61" font-size="6.7" text-anchor="start" fill="#1a1a1a" stroke="#1a1a1a" stroke-width="0.1">ACC1 pKO</text>
<line x1="37.70" y1="211.50" x2="37.70" y2="301.70" stroke="#1a1a1a" stroke-width="1.25"/>
<line x1="37.20" y1="301.20" x2="233.50" y2="301.20" stroke="#1a1a1a" stroke-width="1.25"/>
<line x1="35.40" y1="295.20" x2="37.70" y2="295.20" stroke="#1a1a1a" stroke-width="0.8"/>
<text x="32.00" y="297.58" font-size="6.6" text-anchor="end" fill="#222" textLength="3.23" lengthAdjust="spacingAndGlyphs" stroke="#222" stroke-width="0.14">0</text>
<line x1="35.40" y1="278.68" x2="37.70" y2="278.68" stroke="#1a1a1a" stroke-width="0.8"/>
<text x="32.00" y="281.06" font-size="6.6" text-anchor="end" fill="#222" textLength="3.23" lengthAdjust="spacingAndGlyphs" stroke="#222" stroke-width="0.14">2</text>
<line x1="35.40" y1="262.16" x2="37.70" y2="262.16" stroke="#1a1a1a" stroke-width="0.8"/>
<text x="32.00" y="264.54" font-size="6.6" text-anchor="end" fill="#222" textLength="3.23" lengthAdjust="spacingAndGlyphs" stroke="#222" stroke-width="0.14">4</text>
<line x1="35.40" y1="245.64" x2="37.70" y2="245.64" stroke="#1a1a1a" stroke-width="0.8"/>
<text x="32.00" y="248.02" font-size="6.6" text-anchor="end" fill="#222" textLength="3.23" lengthAdjust="spacingAndGlyphs" stroke="#222" stroke-width="0.14">6</text>
<line x1="35.40" y1="229.12" x2="37.70" y2="229.12" stroke="#1a1a1a" stroke-width="0.8"/>
<text x="32.00" y="231.50" font-size="6.6" text-anchor="end" fill="#222" textLength="3.23" lengthAdjust="spacingAndGlyphs" stroke="#222" stroke-width="0.14">8</text>
<line x1="35.40" y1="212.60" x2="37.70" y2="212.60" stroke="#1a1a1a" stroke-width="0.8"/>
<text x="32.00" y="214.98" font-size="6.6" text-anchor="end" fill="#222" textLength="6.46" lengthAdjust="spacingAndGlyphs" stroke="#222" stroke-width="0.14">10</text>
<text transform="translate(16.60,255.20) rotate(-90)" x="0" y="2.45" font-size="6.8" text-anchor="middle" fill="#1a1a1a" textLength="64.5" lengthAdjust="spacingAndGlyphs" stroke="#1a1a1a" stroke-width="0.3">αIIbβ3 activation (Fold)</text>
<line x1="51.00" y1="301.20" x2="51.00" y2="303.80" stroke="#1a1a1a" stroke-width="0.8"/>
<text x="51.00" y="312.98" font-size="6.6" text-anchor="middle" fill="#222" textLength="3.23" lengthAdjust="spacingAndGlyphs" stroke="#222" stroke-width="0.14">0</text>
<line x1="74.90" y1="301.20" x2="74.90" y2="303.80" stroke="#1a1a1a" stroke-width="0.8"/>
<text x="74.90" y="312.98" font-size="6.6" text-anchor="middle" fill="#222" textLength="6.46" lengthAdjust="spacingAndGlyphs" stroke="#222" stroke-width="0.14">10</text>
<line x1="98.90" y1="301.20" x2="98.90" y2="303.80" stroke="#1a1a1a" stroke-width="0.8"/>
<text x="98.90" y="312.98" font-size="6.6" text-anchor="middle" fill="#222" textLength="6.46" lengthAdjust="spacingAndGlyphs" stroke="#222" stroke-width="0.14">30</text>
<line x1="122.80" y1="301.20" x2="122.80" y2="303.80" stroke="#1a1a1a" stroke-width="0.8"/>
<text x="122.80" y="312.98" font-size="6.6" text-anchor="middle" fill="#222" textLength="9.69" lengthAdjust="spacingAndGlyphs" stroke="#222" stroke-width="0.14">100</text>
<line x1="149.30" y1="301.20" x2="149.30" y2="303.80" stroke="#1a1a1a" stroke-width="0.8"/>
<text x="149.30" y="312.98" font-size="6.6" text-anchor="middle" fill="#222" textLength="3.23" lengthAdjust="spacingAndGlyphs" stroke="#222" stroke-width="0.14">0</text>
<line x1="173.20" y1="301.20" x2="173.20" y2="303.80" stroke="#1a1a1a" stroke-width="0.8"/>
<text x="173.20" y="312.98" font-size="6.6" text-anchor="middle" fill="#222" textLength="11.3" lengthAdjust="spacingAndGlyphs" stroke="#222" stroke-width="0.14">0.01</text>
<line x1="197.10" y1="301.20" x2="197.10" y2="303.80" stroke="#1a1a1a" stroke-width="0.8"/>
<text x="197.10" y="312.98" font-size="6.6" text-anchor="middle" fill="#222" textLength="11.3" lengthAdjust="spacingAndGlyphs" stroke="#222" stroke-width="0.14">0.03</text>
<line x1="220.90" y1="301.20" x2="220.90" y2="303.80" stroke="#1a1a1a" stroke-width="0.8"/>
<text x="220.90" y="312.98" font-size="6.6" text-anchor="middle" fill="#222" textLength="8.07" lengthAdjust="spacingAndGlyphs" stroke="#222" stroke-width="0.14">0.1</text>
<rect x="42.20" y="286.20" width="7.70" height="9.10" fill="#a0a9b5"/>
<rect x="42.20" y="286.00" width="7.70" height="2.60" rx="1.30" fill="#6e7888"/>
<rect x="52.10" y="286.20" width="7.90" height="9.10" fill="#fcca7e"/>
<rect x="52.10" y="286.00" width="7.90" height="2.60" rx="1.30" fill="#f2a640"/>
<rect x="140.20" y="286.20" width="8.00" height="9.10" fill="#a0a9b5"/>
<rect x="140.20" y="286.00" width="8.00" height="2.60" rx="1.30" fill="#6e7888"/>
<rect x="150.60" y="286.20" width="7.70" height="9.10" fill="#fcca7e"/>
<rect x="150.60" y="286.00" width="7.70" height="2.60" rx="1.30" fill="#f2a640"/>
<rect x="65.90" y="259.90" width="7.90" height="35.40" fill="#a0a9b5"/>
<line x1="69.85" y1="266.70" x2="69.85" y2="253.10" stroke="#6e7888" stroke-width="0.7"/>
<line x1="68.15" y1="253.10" x2="71.55" y2="253.10" stroke="#6e7888" stroke-width="0.75"/>
<line x1="68.15" y1="266.70" x2="71.55" y2="266.70" stroke="#6e7888" stroke-width="0.6"/>
<circle cx="69.85" cy="245.10" r="1.45" fill="#6e7888"/>
<circle cx="69.85" cy="253.60" r="1.45" fill="#6e7888"/>
<circle cx="69.85" cy="261.00" r="1.45" fill="#6e7888"/>
<circle cx="69.85" cy="265.40" r="1.45" fill="#6e7888"/>
<circle cx="69.85" cy="275.20" r="1.45" fill="#6e7888"/>
<circle cx="69.85" cy="240.20" r="0.75" fill="#222"/>
<rect x="76.00" y="266.00" width="7.90" height="29.30" fill="#fcca7e"/>
<line x1="79.95" y1="272.50" x2="79.95" y2="259.50" stroke="#f2a640" stroke-width="0.7"/>
<line x1="78.25" y1="259.50" x2="81.65" y2="259.50" stroke="#f2a640" stroke-width="0.75"/>
<line x1="78.25" y1="272.50" x2="81.65" y2="272.50" stroke="#f2a640" stroke-width="0.6"/>
<circle cx="79.95" cy="256.80" r="1.45" fill="#f2a640"/>
<circle cx="79.95" cy="259.50" r="1.45" fill="#f2a640"/>
<circle cx="79.95" cy="266.00" r="1.45" fill="#f2a640"/>
<circle cx="79.95" cy="276.20" r="1.45" fill="#f2a640"/>
<circle cx="79.95" cy="248.50" r="0.75" fill="#222"/>
<rect x="89.90" y="251.80" width="7.90" height="43.50" fill="#a0a9b5"/>
<line x1="93.85" y1="256.10" x2="93.85" y2="247.50" stroke="#6e7888" stroke-width="0.7"/>
<line x1="92.15" y1="247.50" x2="95.55" y2="247.50" stroke="#6e7888" stroke-width="0.75"/>
<line x1="92.15" y1="256.10" x2="95.55" y2="256.10" stroke="#6e7888" stroke-width="0.6"/>
<circle cx="93.85" cy="240.20" r="1.45" fill="#6e7888"/>
<circle cx="93.85" cy="245.10" r="1.45" fill="#6e7888"/>
<circle cx="93.85" cy="255.80" r="1.45" fill="#6e7888"/>
<circle cx="93.85" cy="263.20" r="1.45" fill="#6e7888"/>
<circle cx="93.85" cy="233.30" r="0.75" fill="#222"/>
<rect x="100.00" y="259.90" width="7.90" height="35.40" fill="#fcca7e"/>
<line x1="103.95" y1="263.80" x2="103.95" y2="256.00" stroke="#f2a640" stroke-width="0.7"/>
<line x1="102.25" y1="256.00" x2="105.65" y2="256.00" stroke="#f2a640" stroke-width="0.75"/>
<line x1="102.25" y1="263.80" x2="105.65" y2="263.80" stroke="#f2a640" stroke-width="0.6"/>
<circle cx="103.95" cy="248.80" r="1.45" fill="#f2a640"/>
<circle cx="103.95" cy="255.80" r="1.45" fill="#f2a640"/>
<circle cx="101.40" cy="266.60" r="1.45" fill="#f2a640"/>
<circle cx="106.60" cy="264.20" r="1.45" fill="#f2a640"/>
<circle cx="103.95" cy="263.20" r="1.45" fill="#f2a640"/>
<circle cx="103.95" cy="242.60" r="0.75" fill="#222"/>
<rect x="113.90" y="242.90" width="7.90" height="52.40" fill="#a0a9b5"/>
<line x1="117.85" y1="249.30" x2="117.85" y2="236.50" stroke="#6e7888" stroke-width="0.7"/>
<line x1="116.15" y1="236.50" x2="119.55" y2="236.50" stroke="#6e7888" stroke-width="0.75"/>
<line x1="116.15" y1="249.30" x2="119.55" y2="249.30" stroke="#6e7888" stroke-width="0.6"/>
<circle cx="115.30" cy="233.30" r="1.45" fill="#6e7888"/>
<circle cx="120.60" cy="231.80" r="1.45" fill="#6e7888"/>
<circle cx="117.85" cy="248.50" r="1.45" fill="#6e7888"/>
<circle cx="117.85" cy="255.80" r="1.45" fill="#6e7888"/>
<rect x="124.00" y="253.60" width="7.80" height="41.70" fill="#fcca7e"/>
<line x1="127.90" y1="258.70" x2="127.90" y2="248.50" stroke="#f2a640" stroke-width="0.7"/>
<line x1="126.20" y1="248.50" x2="129.60" y2="248.50" stroke="#f2a640" stroke-width="0.75"/>
<line x1="126.20" y1="258.70" x2="129.60" y2="258.70" stroke="#f2a640" stroke-width="0.6"/>
<circle cx="124.90" cy="245.70" r="1.45" fill="#f2a640"/>
<circle cx="131.00" cy="245.10" r="1.45" fill="#f2a640"/>
<circle cx="127.90" cy="255.80" r="1.45" fill="#f2a640"/>
<circle cx="127.90" cy="263.20" r="1.45" fill="#f2a640"/>
<circle cx="127.90" cy="238.30" r="0.75" fill="#222"/>
<rect x="164.30" y="277.50" width="7.90" height="17.80" fill="#a0a9b5"/>
<line x1="168.25" y1="281.00" x2="168.25" y2="274.00" stroke="#6e7888" stroke-width="0.7"/>
<line x1="166.55" y1="274.00" x2="169.95" y2="274.00" stroke="#6e7888" stroke-width="0.75"/>
<line x1="166.55" y1="281.00" x2="169.95" y2="281.00" stroke="#6e7888" stroke-width="0.6"/>
<circle cx="165.60" cy="274.40" r="1.45" fill="#6e7888"/>
<circle cx="171.00" cy="274.40" r="1.45" fill="#6e7888"/>
<circle cx="168.25" cy="276.60" r="1.45" fill="#6e7888"/>
<circle cx="168.25" cy="283.10" r="1.45" fill="#6e7888"/>
<circle cx="168.25" cy="268.30" r="0.75" fill="#222"/>
<rect x="174.50" y="277.90" width="7.40" height="17.40" fill="#fcca7e"/>
<line x1="178.20" y1="280.60" x2="178.20" y2="275.20" stroke="#f2a640" stroke-width="0.7"/>
<line x1="176.50" y1="275.20" x2="179.90" y2="275.20" stroke="#f2a640" stroke-width="0.75"/>
<line x1="176.50" y1="280.60" x2="179.90" y2="280.60" stroke="#f2a640" stroke-width="0.6"/>
<circle cx="175.80" cy="275.70" r="1.45" fill="#f2a640"/>
<circle cx="180.60" cy="276.20" r="1.45" fill="#f2a640"/>
<circle cx="178.20" cy="278.50" r="1.45" fill="#f2a640"/>
<circle cx="178.20" cy="280.70" r="1.45" fill="#f2a640"/>
<circle cx="178.20" cy="270.20" r="0.75" fill="#222"/>
<rect x="188.30" y="257.20" width="7.90" height="38.10" fill="#a0a9b5"/>
<line x1="192.25" y1="260.90" x2="192.25" y2="253.50" stroke="#6e7888" stroke-width="0.7"/>
<line x1="190.55" y1="253.50" x2="193.95" y2="253.50" stroke="#6e7888" stroke-width="0.75"/>
<line x1="190.55" y1="260.90" x2="193.95" y2="260.90" stroke="#6e7888" stroke-width="0.6"/>
<circle cx="192.25" cy="248.60" r="1.45" fill="#6e7888"/>
<circle cx="192.25" cy="253.50" r="1.45" fill="#6e7888"/>
<circle cx="192.25" cy="260.40" r="1.45" fill="#6e7888"/>
<circle cx="190.40" cy="264.60" r="1.45" fill="#6e7888"/>
<circle cx="194.40" cy="265.50" r="1.45" fill="#6e7888"/>
<circle cx="192.25" cy="241.50" r="0.75" fill="#222"/>
<rect x="198.10" y="267.00" width="8.10" height="28.30" fill="#fcca7e"/>
<line x1="202.15" y1="270.50" x2="202.15" y2="263.50" stroke="#f2a640" stroke-width="0.7"/>
<line x1="200.45" y1="263.50" x2="203.85" y2="263.50" stroke="#f2a640" stroke-width="0.75"/>
<line x1="200.45" y1="270.50" x2="203.85" y2="270.50" stroke="#f2a640" stroke-width="0.6"/>
<circle cx="202.15" cy="259.10" r="1.45" fill="#f2a640"/>
<circle cx="199.40" cy="267.40" r="1.45" fill="#f2a640"/>
<circle cx="204.90" cy="267.00" r="1.45" fill="#f2a640"/>
<circle cx="202.15" cy="271.40" r="1.45" fill="#f2a640"/>
<circle cx="202.15" cy="251.10" r="0.75" fill="#222"/>
<rect x="211.90" y="247.10" width="7.90" height="48.20" fill="#a0a9b5"/>
<line x1="215.85" y1="249.70" x2="215.85" y2="244.50" stroke="#6e7888" stroke-width="0.7"/>
<line x1="214.15" y1="244.50" x2="217.55" y2="244.50" stroke="#6e7888" stroke-width="0.75"/>
<line x1="214.15" y1="249.70" x2="217.55" y2="249.70" stroke="#6e7888" stroke-width="0.6"/>
<circle cx="212.90" cy="244.30" r="1.45" fill="#6e7888"/>
<circle cx="219.00" cy="243.80" r="1.45" fill="#6e7888"/>
<circle cx="215.85" cy="245.20" r="1.45" fill="#6e7888"/>
<circle cx="215.85" cy="251.70" r="1.45" fill="#6e7888"/>
<circle cx="215.85" cy="237.80" r="0.75" fill="#222"/>
<rect x="222.00" y="254.10" width="7.80" height="41.20" fill="#fcca7e"/>
<line x1="225.90" y1="258.20" x2="225.90" y2="250.00" stroke="#f2a640" stroke-width="0.7"/>
<line x1="224.20" y1="250.00" x2="227.60" y2="250.00" stroke="#f2a640" stroke-width="0.75"/>
<line x1="224.20" y1="258.20" x2="227.60" y2="258.20" stroke="#f2a640" stroke-width="0.6"/>
<circle cx="225.90" cy="248.00" r="1.45" fill="#f2a640"/>
<circle cx="222.90" cy="254.50" r="1.45" fill="#f2a640"/>
<circle cx="229.00" cy="255.90" r="1.45" fill="#f2a640"/>
<circle cx="225.90" cy="260.90" r="1.45" fill="#f2a640"/>
<circle cx="225.90" cy="241.20" r="0.75" fill="#222"/>
<line x1="136.50" y1="211.50" x2="136.50" y2="299.50" stroke="#333" stroke-width="0.8" stroke-dasharray="1.2,1.0"/>
<text x="86.60" y="324.29" font-size="7.2" text-anchor="middle" fill="#1a1a1a" textLength="33.5" lengthAdjust="spacingAndGlyphs" stroke="#1a1a1a" stroke-width="0.35">Thr (mU/mL)</text>
<text x="185.10" y="324.09" font-size="7.2" text-anchor="middle" fill="#1a1a1a" textLength="33.5" lengthAdjust="spacingAndGlyphs" stroke="#1a1a1a" stroke-width="0.35">CRP (µg/mL)</text>
<text x="249.39" y="181.59" font-size="10.6" font-weight="bold" fill="#000" stroke="#000" stroke-width="0.3">E</text>
<rect x="278.80" y="185.60" width="9.00" height="4.20" fill="#a0a9b5"/>
<rect x="278.80" y="195.90" width="9.00" height="4.20" fill="#fbcf8e"/>
<text x="291.00" y="190.01" font-size="6.7" text-anchor="start" fill="#1a1a1a" stroke="#1a1a1a" stroke-width="0.1">ACC1<tspan font-size="4.4" dy="-2.1" textLength="7.4" lengthAdjust="spacingAndGlyphs">fl/fl</tspan></text>
<text x="291.00" y="200.31" font-size="6.7" text-anchor="start" fill="#1a1a1a" stroke="#1a1a1a" stroke-width="0.1">ACC1 pKO</text>
<line x1="278.40" y1="211.00" x2="278.40" y2="301.80" stroke="#1a1a1a" stroke-width="1.25"/>
<line x1="277.90" y1="301.30" x2="473.20" y2="301.30" stroke="#1a1a1a" stroke-width="1.25"/>
<line x1="276.10" y1="296.00" x2="278.40" y2="296.00" stroke="#1a1a1a" stroke-width="0.8"/>
<text x="272.40" y="298.38" font-size="6.6" text-anchor="end" fill="#222" textLength="3.23" lengthAdjust="spacingAndGlyphs" stroke="#222" stroke-width="0.14">0</text>
<line x1="276.10" y1="279.52" x2="278.40" y2="279.52" stroke="#1a1a1a" stroke-width="0.8"/>
<text x="272.40" y="281.90" font-size="6.6" text-anchor="end" fill="#222" textLength="6.46" lengthAdjust="spacingAndGlyphs" stroke="#222" stroke-width="0.14">20</text>
<line x1="276.10" y1="263.04" x2="278.40" y2="263.04" stroke="#1a1a1a" stroke-width="0.8"/>
<text x="272.40" y="265.42" font-size="6.6" text-anchor="end" fill="#222" textLength="6.46" lengthAdjust="spacingAndGlyphs" stroke="#222" stroke-width="0.14">40</text>
<line x1="276.10" y1="246.56" x2="278.40" y2="246.56" stroke="#1a1a1a" stroke-width="0.8"/>
<text x="272.40" y="248.94" font-size="6.6" text-anchor="end" fill="#222" textLength="6.46" lengthAdjust="spacingAndGlyphs" stroke="#222" stroke-width="0.14">60</text>
<line x1="276.10" y1="230.08" x2="278.40" y2="230.08" stroke="#1a1a1a" stroke-width="0.8"/>
<text x="272.40" y="232.46" font-size="6.6" text-anchor="end" fill="#222" textLength="6.46" lengthAdjust="spacingAndGlyphs" stroke="#222" stroke-width="0.14">80</text>
<line x1="276.10" y1="213.60" x2="278.40" y2="213.60" stroke="#1a1a1a" stroke-width="0.8"/>
<text x="272.40" y="215.98" font-size="6.6" text-anchor="end" fill="#222" textLength="9.69" lengthAdjust="spacingAndGlyphs" stroke="#222" stroke-width="0.14">100</text>
<text transform="translate(252.40,256.10) rotate(-90)" x="0" y="2.45" font-size="6.8" text-anchor="middle" fill="#1a1a1a" textLength="73" lengthAdjust="spacingAndGlyphs" stroke="#1a1a1a" stroke-width="0.3">CD62P-stained platelets (%)</text>
<line x1="291.50" y1="301.30" x2="291.50" y2="303.90" stroke="#1a1a1a" stroke-width="0.8"/>
<text x="291.50" y="312.38" font-size="6.6" text-anchor="middle" fill="#222" textLength="3.23" lengthAdjust="spacingAndGlyphs" stroke="#222" stroke-width="0.14">0</text>
<line x1="315.40" y1="301.30" x2="315.40" y2="303.90" stroke="#1a1a1a" stroke-width="0.8"/>
<text x="315.40" y="312.38" font-size="6.6" text-anchor="middle" fill="#222" textLength="6.46" lengthAdjust="spacingAndGlyphs" stroke="#222" stroke-width="0.14">10</text>
<line x1="339.10" y1="301.30" x2="339.10" y2="303.90" stroke="#1a1a1a" stroke-width="0.8"/>
<text x="339.10" y="312.38" font-size="6.6" text-anchor="middle" fill="#222" textLength="6.46" lengthAdjust="spacingAndGlyphs" stroke="#222" stroke-width="0.14">30</text>
<line x1="362.80" y1="301.30" x2="362.80" y2="303.90" stroke="#1a1a1a" stroke-width="0.8"/>
<text x="362.80" y="312.38" font-size="6.6" text-anchor="middle" fill="#222" textLength="9.69" lengthAdjust="spacingAndGlyphs" stroke="#222" stroke-width="0.14">100</text>
<line x1="388.50" y1="301.30" x2="388.50" y2="303.90" stroke="#1a1a1a" stroke-width="0.8"/>
<text x="388.50" y="312.38" font-size="6.6" text-anchor="middle" fill="#222" textLength="3.23" lengthAdjust="spacingAndGlyphs" stroke="#222" stroke-width="0.14">0</text>
<line x1="412.40" y1="301.30" x2="412.40" y2="303.90" stroke="#1a1a1a" stroke-width="0.8"/>
<text x="412.40" y="312.38" font-size="6.6" text-anchor="middle" fill="#222" textLength="11.3" lengthAdjust="spacingAndGlyphs" stroke="#222" stroke-width="0.14">0.01</text>
<line x1="436.30" y1="301.30" x2="436.30" y2="303.90" stroke="#1a1a1a" stroke-width="0.8"/>
<text x="436.30" y="312.38" font-size="6.6" text-anchor="middle" fill="#222" textLength="11.3" lengthAdjust="spacingAndGlyphs" stroke="#222" stroke-width="0.14">0.03</text>
<line x1="460.10" y1="301.30" x2="460.10" y2="303.90" stroke="#1a1a1a" stroke-width="0.8"/>
<text x="460.10" y="312.38" font-size="6.6" text-anchor="middle" fill="#222" textLength="8.07" lengthAdjust="spacingAndGlyphs" stroke="#222" stroke-width="0.14">0.1</text>
<rect x="282.90" y="293.80" width="7.30" height="2.20" fill="#a0a9b5"/>
<circle cx="284.40" cy="294.60" r="1.45" fill="#6e7888"/>
<circle cx="287.00" cy="293.00" r="1.45" fill="#6e7888"/>
<circle cx="289.00" cy="294.60" r="1.45" fill="#6e7888"/>
<rect x="292.70" y="293.80" width="7.90" height="2.20" fill="#fcca7e"/>
<circle cx="294.20" cy="294.80" r="1.45" fill="#f2a640"/>
<circle cx="296.60" cy="292.60" r="1.45" fill="#f2a640"/>
<circle cx="299.20" cy="294.60" r="1.45" fill="#f2a640"/>
<rect x="379.80" y="293.80" width="7.50" height="2.20" fill="#a0a9b5"/>
<circle cx="381.40" cy="294.90" r="1.45" fill="#6e7888"/>
<circle cx="383.60" cy="294.40" r="1.45" fill="#6e7888"/>
<circle cx="385.80" cy="294.60" r="1.45" fill="#6e7888"/>
<rect x="389.50" y="293.80" width="8.10" height="2.20" fill="#fcca7e"/>
<circle cx="391.00" cy="295.00" r="1.45" fill="#f2a640"/>
<circle cx="393.50" cy="293.20" r="1.45" fill="#f2a640"/>
<circle cx="396.20" cy="294.60" r="1.45" fill="#f2a640"/>
<circle cx="394.80" cy="292.00" r="1.45" fill="#f2a640"/>
<rect x="306.80" y="270.40" width="7.40" height="25.60" fill="#a0a9b5"/>
<line x1="310.50" y1="275.60" x2="310.50" y2="265.20" stroke="#6e7888" stroke-width="0.7"/>
<line x1="308.80" y1="265.20" x2="312.20" y2="265.20" stroke="#6e7888" stroke-width="0.75"/>
<line x1="308.80" y1="275.60" x2="312.20" y2="275.60" stroke="#6e7888" stroke-width="0.6"/>
<circle cx="310.50" cy="256.50" r="1.45" fill="#6e7888"/>
<circle cx="310.50" cy="269.50" r="1.45" fill="#6e7888"/>
<circle cx="310.50" cy="275.00" r="1.45" fill="#6e7888"/>
<circle cx="310.50" cy="280.50" r="1.45" fill="#6e7888"/>
<circle cx="310.50" cy="249.70" r="0.75" fill="#222"/>
<rect x="316.40" y="273.70" width="7.50" height="22.30" fill="#fcca7e"/>
<line x1="320.15" y1="278.90" x2="320.15" y2="268.50" stroke="#f2a640" stroke-width="0.7"/>
<line x1="318.45" y1="268.50" x2="321.85" y2="268.50" stroke="#f2a640" stroke-width="0.75"/>
<line x1="318.45" y1="278.90" x2="321.85" y2="278.90" stroke="#f2a640" stroke-width="0.6"/>
<circle cx="320.15" cy="264.50" r="1.45" fill="#f2a640"/>
<circle cx="320.15" cy="270.00" r="1.45" fill="#f2a640"/>
<circle cx="320.15" cy="277.80" r="1.45" fill="#f2a640"/>
<circle cx="320.15" cy="282.90" r="1.45" fill="#f2a640"/>
<circle cx="320.15" cy="256.50" r="0.75" fill="#222"/>
<rect x="330.20" y="255.20" width="7.60" height="40.80" fill="#a0a9b5"/>
<line x1="334.00" y1="259.40" x2="334.00" y2="251.00" stroke="#6e7888" stroke-width="0.7"/>
<line x1="332.30" y1="251.00" x2="335.70" y2="251.00" stroke="#6e7888" stroke-width="0.75"/>
<line x1="332.30" y1="259.40" x2="335.70" y2="259.40" stroke="#6e7888" stroke-width="0.6"/>
<circle cx="331.60" cy="250.10" r="1.45" fill="#6e7888"/>
<circle cx="336.60" cy="248.60" r="1.45" fill="#6e7888"/>
<circle cx="334.00" cy="256.50" r="1.45" fill="#6e7888"/>
<circle cx="334.00" cy="264.80" r="1.45" fill="#6e7888"/>
<circle cx="334.00" cy="241.80" r="0.75" fill="#222"/>
<rect x="340.10" y="256.00" width="7.80" height="40.00" fill="#fcca7e"/>
<line x1="344.00" y1="261.90" x2="344.00" y2="250.10" stroke="#f2a640" stroke-width="0.7"/>
<line x1="342.30" y1="250.10" x2="345.70" y2="250.10" stroke="#f2a640" stroke-width="0.75"/>
<line x1="342.30" y1="261.90" x2="345.70" y2="261.90" stroke="#f2a640" stroke-width="0.6"/>
<circle cx="344.00" cy="238.60" r="1.45" fill="#f2a640"/>
<circle cx="344.00" cy="260.20" r="1.45" fill="#f2a640"/>
<circle cx="341.40" cy="261.20" r="1.45" fill="#f2a640"/>
<circle cx="346.60" cy="261.20" r="1.45" fill="#f2a640"/>
<circle cx="344.00" cy="233.10" r="0.75" fill="#222"/>
<rect x="353.90" y="237.50" width="7.90" height="58.50" fill="#a0a9b5"/>
<line x1="357.85" y1="242.50" x2="357.85" y2="232.50" stroke="#6e7888" stroke-width="0.7"/>
<line x1="356.15" y1="232.50" x2="359.55" y2="232.50" stroke="#6e7888" stroke-width="0.75"/>
<line x1="356.15" y1="242.50" x2="359.55" y2="242.50" stroke="#6e7888" stroke-width="0.6"/>
<circle cx="357.85" cy="227.90" r="1.45" fill="#6e7888"/>
<circle cx="357.85" cy="232.50" r="1.45" fill="#6e7888"/>
<circle cx="357.85" cy="239.00" r="1.45" fill="#6e7888"/>
<circle cx="357.85" cy="250.40" r="1.45" fill="#6e7888"/>
<circle cx="357.85" cy="220.50" r="0.75" fill="#222"/>
<rect x="364.00" y="239.90" width="7.70" height="56.10" fill="#fcca7e"/>
<line x1="367.85" y1="244.80" x2="367.85" y2="235.00" stroke="#f2a640" stroke-width="0.7"/>
<line x1="366.15" y1="235.00" x2="369.55" y2="235.00" stroke="#f2a640" stroke-width="0.75"/>
<line x1="366.15" y1="244.80" x2="369.55" y2="244.80" stroke="#f2a640" stroke-width="0.6"/>
<circle cx="364.90" cy="231.60" r="1.45" fill="#f2a640"/>
<circle cx="370.80" cy="233.80" r="1.45" fill="#f2a640"/>
<circle cx="367.85" cy="240.80" r="1.45" fill="#f2a640"/>
<circle cx="367.85" cy="250.10" r="1.45" fill="#f2a640"/>
<circle cx="367.85" cy="225.20" r="0.75" fill="#222"/>
<rect x="403.80" y="284.20" width="7.30" height="11.80" fill="#a0a9b5"/>
<line x1="407.45" y1="286.60" x2="407.45" y2="281.80" stroke="#6e7888" stroke-width="0.7"/>
<line x1="405.75" y1="281.80" x2="409.15" y2="281.80" stroke="#6e7888" stroke-width="0.75"/>
<line x1="405.75" y1="286.60" x2="409.15" y2="286.60" stroke="#6e7888" stroke-width="0.6"/>
<circle cx="404.80" cy="279.20" r="1.45" fill="#6e7888"/>
<circle cx="410.20" cy="279.20" r="1.45" fill="#6e7888"/>
<circle cx="407.45" cy="281.80" r="1.45" fill="#6e7888"/>
<circle cx="407.45" cy="292.50" r="1.45" fill="#6e7888"/>
<rect x="413.80" y="287.90" width="7.40" height="8.10" fill="#fcca7e"/>
<line x1="417.50" y1="290.70" x2="417.50" y2="285.10" stroke="#f2a640" stroke-width="0.7"/>
<line x1="415.80" y1="285.10" x2="419.20" y2="285.10" stroke="#f2a640" stroke-width="0.75"/>
<line x1="415.80" y1="290.70" x2="419.20" y2="290.70" stroke="#f2a640" stroke-width="0.6"/>
<circle cx="417.50" cy="280.50" r="1.45" fill="#f2a640"/>
<circle cx="417.50" cy="285.10" r="1.45" fill="#f2a640"/>
<circle cx="417.50" cy="288.50" r="1.45" fill="#f2a640"/>
<rect x="427.70" y="255.20" width="7.70" height="40.80" fill="#a0a9b5"/>
<line x1="431.55" y1="262.20" x2="431.55" y2="248.20" stroke="#6e7888" stroke-width="0.7"/>
<line x1="429.85" y1="248.20" x2="433.25" y2="248.20" stroke="#6e7888" stroke-width="0.75"/>
<line x1="429.85" y1="262.20" x2="433.25" y2="262.20" stroke="#6e7888" stroke-width="0.6"/>
<circle cx="428.60" cy="245.50" r="1.45" fill="#6e7888"/>
<circle cx="434.60" cy="244.90" r="1.45" fill="#6e7888"/>
<circle cx="431.55" cy="252.80" r="1.45" fill="#6e7888"/>
<circle cx="431.55" cy="274.40" r="1.45" fill="#6e7888"/>
<circle cx="431.55" cy="238.10" r="0.75" fill="#222"/>
<rect x="437.80" y="262.10" width="7.40" height="33.90" fill="#fcca7e"/>
<line x1="441.50" y1="266.70" x2="441.50" y2="257.50" stroke="#f2a640" stroke-width="0.7"/>
<line x1="439.80" y1="257.50" x2="443.20" y2="257.50" stroke="#f2a640" stroke-width="0.75"/>
<line x1="439.80" y1="266.70" x2="443.20" y2="266.70" stroke="#f2a640" stroke-width="0.6"/>
<circle cx="441.50" cy="244.50" r="1.45" fill="#f2a640"/>
<circle cx="441.50" cy="254.10" r="1.45" fill="#f2a640"/>
<circle cx="441.50" cy="266.70" r="1.45" fill="#f2a640"/>
<circle cx="441.50" cy="279.60" r="1.45" fill="#f2a640"/>
<circle cx="441.50" cy="238.10" r="0.75" fill="#222"/>
<rect x="451.70" y="233.50" width="7.40" height="62.50" fill="#a0a9b5"/>
<line x1="455.40" y1="236.00" x2="455.40" y2="231.00" stroke="#6e7888" stroke-width="0.7"/>
<line x1="453.70" y1="231.00" x2="457.10" y2="231.00" stroke="#6e7888" stroke-width="0.75"/>
<line x1="453.70" y1="236.00" x2="457.10" y2="236.00" stroke="#6e7888" stroke-width="0.6"/>
<circle cx="455.40" cy="227.00" r="1.45" fill="#6e7888"/>
<circle cx="455.40" cy="231.20" r="1.45" fill="#6e7888"/>
<circle cx="455.40" cy="236.80" r="1.45" fill="#6e7888"/>
<circle cx="455.40" cy="239.00" r="1.45" fill="#6e7888"/>
<circle cx="455.40" cy="220.20" r="0.75" fill="#222"/>
<rect x="461.30" y="228.80" width="7.90" height="67.20" fill="#fcca7e"/>
<line x1="465.25" y1="231.10" x2="465.25" y2="226.50" stroke="#f2a640" stroke-width="0.7"/>
<line x1="463.55" y1="226.50" x2="466.95" y2="226.50" stroke="#f2a640" stroke-width="0.75"/>
<line x1="463.55" y1="231.10" x2="466.95" y2="231.10" stroke="#f2a640" stroke-width="0.6"/>
<circle cx="462.30" cy="228.80" r="1.45" fill="#f2a640"/>
<circle cx="468.20" cy="229.80" r="1.45" fill="#f2a640"/>
<circle cx="465.25" cy="234.40" r="1.45" fill="#f2a640"/>
<circle cx="465.25" cy="239.90" r="1.45" fill="#f2a640"/>
<circle cx="465.25" cy="222.00" r="0.75" fill="#222"/>
<line x1="375.70" y1="208.50" x2="375.70" y2="298.00" stroke="#333" stroke-width="0.8" stroke-dasharray="1.2,1.0"/>
<text x="327.30" y="323.69" font-size="7.2" text-anchor="middle" fill="#1a1a1a" textLength="33" lengthAdjust="spacingAndGlyphs" stroke="#1a1a1a" stroke-width="0.35">Thr (mU/mL)</text>
<text x="424.60" y="323.49" font-size="7.2" text-anchor="middle" fill="#1a1a1a" textLength="34" lengthAdjust="spacingAndGlyphs" stroke="#1a1a1a" stroke-width="0.35">CRP (µg/mL)</text>
<text x="7.69" y="351.39" font-size="10.6" font-weight="bold" fill="#000" stroke="#000" stroke-width="0.3">F</text>
<rect x="37.60" y="353.60" width="9.00" height="4.20" fill="#a0a9b5"/>
<rect x="37.60" y="364.80" width="9.00" height="4.20" fill="#fbcf8e"/>
<text x="49.20" y="358.01" font-size="6.7" text-anchor="start" fill="#1a1a1a" stroke="#1a1a1a" stroke-width="0.1">ACC1<tspan font-size="4.4" dy="-2.1" textLength="7.4" lengthAdjust="spacingAndGlyphs">fl/fl</tspan></text>
<text x="49.20" y="369.21" font-size="6.7" text-anchor="start" fill="#1a1a1a" stroke="#1a1a1a" stroke-width="0.1">ACC1 pKO</text>
<line x1="39.00" y1="379.20" x2="39.00" y2="470.20" stroke="#1a1a1a" stroke-width="1.25"/>
<line x1="38.50" y1="469.70" x2="234.80" y2="469.70" stroke="#1a1a1a" stroke-width="1.25"/>
<line x1="36.70" y1="465.10" x2="39.00" y2="465.10" stroke="#1a1a1a" stroke-width="0.8"/>
<text x="33.00" y="467.48" font-size="6.6" text-anchor="end" fill="#222" textLength="8.07" lengthAdjust="spacingAndGlyphs" stroke="#222" stroke-width="0.14">0.0</text>
<line x1="36.70" y1="448.40" x2="39.00" y2="448.40" stroke="#1a1a1a" stroke-width="0.8"/>
<text x="33.00" y="450.78" font-size="6.6" text-anchor="end" fill="#222" textLength="8.07" lengthAdjust="spacingAndGlyphs" stroke="#222" stroke-width="0.14">0.5</text>
<line x1="36.70" y1="431.70" x2="39.00" y2="431.70" stroke="#1a1a1a" stroke-width="0.8"/>
<text x="33.00" y="434.08" font-size="6.6" text-anchor="end" fill="#222" textLength="8.07" lengthAdjust="spacingAndGlyphs" stroke="#222" stroke-width="0.14">1.0</text>
<line x1="36.70" y1="415.00" x2="39.00" y2="415.00" stroke="#1a1a1a" stroke-width="0.8"/>
<text x="33.00" y="417.38" font-size="6.6" text-anchor="end" fill="#222" textLength="8.07" lengthAdjust="spacingAndGlyphs" stroke="#222" stroke-width="0.14">1.5</text>
<line x1="36.70" y1="398.30" x2="39.00" y2="398.30" stroke="#1a1a1a" stroke-width="0.8"/>
<text x="33.00" y="400.68" font-size="6.6" text-anchor="end" fill="#222" textLength="8.07" lengthAdjust="spacingAndGlyphs" stroke="#222" stroke-width="0.14">2.0</text>
<line x1="36.70" y1="381.60" x2="39.00" y2="381.60" stroke="#1a1a1a" stroke-width="0.8"/>
<text x="33.00" y="383.98" font-size="6.6" text-anchor="end" fill="#222" textLength="8.07" lengthAdjust="spacingAndGlyphs" stroke="#222" stroke-width="0.14">2.5</text>
<text transform="translate(16.70,424.30) rotate(-90)" x="0" y="2.45" font-size="6.8" text-anchor="middle" fill="#1a1a1a" textLength="56" lengthAdjust="spacingAndGlyphs" stroke="#1a1a1a" stroke-width="0.3">ATP release (nmoles)</text>
<line x1="56.50" y1="469.70" x2="56.50" y2="472.30" stroke="#1a1a1a" stroke-width="0.8"/>
<text x="56.50" y="481.88" font-size="6.6" text-anchor="middle" fill="#222" textLength="6.46" lengthAdjust="spacingAndGlyphs" stroke="#222" stroke-width="0.14">10</text>
<line x1="88.10" y1="469.70" x2="88.10" y2="472.30" stroke="#1a1a1a" stroke-width="0.8"/>
<text x="88.10" y="481.88" font-size="6.6" text-anchor="middle" fill="#222" textLength="6.46" lengthAdjust="spacingAndGlyphs" stroke="#222" stroke-width="0.14">15</text>
<line x1="119.60" y1="469.70" x2="119.60" y2="472.30" stroke="#1a1a1a" stroke-width="0.8"/>
<text x="119.60" y="481.88" font-size="6.6" text-anchor="middle" fill="#222" textLength="6.46" lengthAdjust="spacingAndGlyphs" stroke="#222" stroke-width="0.14">20</text>
<line x1="154.00" y1="469.70" x2="154.00" y2="472.30" stroke="#1a1a1a" stroke-width="0.8"/>
<text x="154.00" y="481.88" font-size="6.6" text-anchor="middle" fill="#222" textLength="11.3" lengthAdjust="spacingAndGlyphs" stroke="#222" stroke-width="0.14">0.01</text>
<line x1="186.10" y1="469.70" x2="186.10" y2="472.30" stroke="#1a1a1a" stroke-width="0.8"/>
<text x="186.10" y="481.88" font-size="6.6" text-anchor="middle" fill="#222" textLength="11.3" lengthAdjust="spacingAndGlyphs" stroke="#222" stroke-width="0.14">0.03</text>
<line x1="217.60" y1="469.70" x2="217.60" y2="472.30" stroke="#1a1a1a" stroke-width="0.8"/>
<text x="217.60" y="481.88" font-size="6.6" text-anchor="middle" fill="#222" textLength="8.07" lengthAdjust="spacingAndGlyphs" stroke="#222" stroke-width="0.14">0.1</text>
<rect x="44.20" y="457.20" width="11.40" height="7.80" fill="#a0a9b5"/>
<line x1="49.90" y1="457.20" x2="49.90" y2="456.00" stroke="#6e7888" stroke-width="0.7"/>
<line x1="48.20" y1="456.00" x2="51.60" y2="456.00" stroke="#6e7888" stroke-width="0.75"/>
<circle cx="45.80" cy="458.20" r="1.45" fill="#6e7888"/>
<circle cx="49.60" cy="461.00" r="1.45" fill="#6e7888"/>
<circle cx="53.30" cy="456.60" r="1.45" fill="#6e7888"/>
<circle cx="53.30" cy="461.40" r="1.45" fill="#6e7888"/>
<circle cx="46.00" cy="462.20" r="1.45" fill="#6e7888"/>
<rect x="57.70" y="459.20" width="11.00" height="5.80" fill="#fcca7e"/>
<circle cx="63.20" cy="456.80" r="1.45" fill="#f2a640"/>
<circle cx="60.00" cy="461.60" r="1.45" fill="#f2a640"/>
<circle cx="63.20" cy="461.00" r="1.45" fill="#f2a640"/>
<circle cx="66.50" cy="461.60" r="1.45" fill="#f2a640"/>
<circle cx="62.60" cy="459.20" r="1.45" fill="#f2a640"/>
<rect x="75.90" y="458.00" width="11.30" height="7.00" fill="#a0a9b5"/>
<circle cx="77.90" cy="458.00" r="1.45" fill="#6e7888"/>
<circle cx="81.80" cy="458.00" r="1.45" fill="#6e7888"/>
<circle cx="85.60" cy="458.00" r="1.45" fill="#6e7888"/>
<circle cx="80.00" cy="462.40" r="1.45" fill="#6e7888"/>
<circle cx="84.00" cy="462.40" r="1.45" fill="#6e7888"/>
<rect x="89.10" y="459.40" width="11.10" height="5.60" fill="#fcca7e"/>
<circle cx="94.60" cy="457.20" r="1.45" fill="#f2a640"/>
<circle cx="91.50" cy="462.40" r="1.45" fill="#f2a640"/>
<circle cx="94.60" cy="461.40" r="1.45" fill="#f2a640"/>
<circle cx="97.80" cy="462.40" r="1.45" fill="#f2a640"/>
<circle cx="93.00" cy="463.00" r="1.45" fill="#f2a640"/>
<rect x="107.50" y="453.40" width="11.00" height="11.60" fill="#a0a9b5"/>
<line x1="113.00" y1="457.30" x2="113.00" y2="449.50" stroke="#6e7888" stroke-width="0.7"/>
<line x1="111.30" y1="449.50" x2="114.70" y2="449.50" stroke="#6e7888" stroke-width="0.75"/>
<line x1="111.30" y1="457.30" x2="114.70" y2="457.30" stroke="#6e7888" stroke-width="0.6"/>
<circle cx="113.00" cy="443.80" r="1.45" fill="#6e7888"/>
<circle cx="113.00" cy="450.20" r="1.45" fill="#6e7888"/>
<circle cx="110.00" cy="454.30" r="1.45" fill="#6e7888"/>
<circle cx="116.00" cy="454.30" r="1.45" fill="#6e7888"/>
<circle cx="113.00" cy="459.50" r="1.45" fill="#6e7888"/>
<circle cx="113.00" cy="437.70" r="0.75" fill="#222"/>
<rect x="120.30" y="457.60" width="11.30" height="7.40" fill="#fcca7e"/>
<circle cx="126.00" cy="454.30" r="1.45" fill="#f2a640"/>
<circle cx="126.00" cy="458.40" r="1.45" fill="#f2a640"/>
<circle cx="122.60" cy="461.70" r="1.45" fill="#f2a640"/>
<circle cx="129.60" cy="461.70" r="1.45" fill="#f2a640"/>
<rect x="142.20" y="460.30" width="10.80" height="4.70" fill="#a0a9b5"/>
<line x1="147.60" y1="460.30" x2="147.60" y2="456.10" stroke="#6e7888" stroke-width="0.7"/>
<line x1="145.90" y1="456.10" x2="149.30" y2="456.10" stroke="#6e7888" stroke-width="0.75"/>
<circle cx="143.60" cy="462.10" r="1.45" fill="#6e7888"/>
<circle cx="147.60" cy="459.00" r="1.45" fill="#6e7888"/>
<circle cx="151.50" cy="462.10" r="1.45" fill="#6e7888"/>
<circle cx="147.60" cy="454.80" r="1.45" fill="#6e7888"/>
<rect x="155.50" y="460.50" width="10.60" height="4.50" fill="#fcca7e"/>
<circle cx="157.00" cy="462.70" r="1.45" fill="#f2a640"/>
<circle cx="160.50" cy="461.20" r="1.45" fill="#f2a640"/>
<circle cx="164.00" cy="459.70" r="1.45" fill="#f2a640"/>
<circle cx="162.50" cy="462.30" r="1.45" fill="#f2a640"/>
<rect x="174.00" y="431.70" width="11.10" height="33.30" fill="#a0a9b5"/>
<line x1="179.55" y1="439.50" x2="179.55" y2="423.90" stroke="#6e7888" stroke-width="0.7"/>
<line x1="177.85" y1="423.90" x2="181.25" y2="423.90" stroke="#6e7888" stroke-width="0.75"/>
<line x1="177.85" y1="439.50" x2="181.25" y2="439.50" stroke="#6e7888" stroke-width="0.6"/>
<circle cx="179.55" cy="412.90" r="1.45" fill="#6e7888"/>
<circle cx="179.55" cy="428.00" r="1.45" fill="#6e7888"/>
<circle cx="179.55" cy="439.40" r="1.45" fill="#6e7888"/>
<circle cx="179.55" cy="444.20" r="1.45" fill="#6e7888"/>
<circle cx="179.55" cy="403.60" r="0.75" fill="#222"/>
<rect x="187.50" y="441.30" width="10.50" height="23.70" fill="#fcca7e"/>
<line x1="192.75" y1="451.80" x2="192.75" y2="430.80" stroke="#f2a640" stroke-width="0.7"/>
<line x1="191.05" y1="430.80" x2="194.45" y2="430.80" stroke="#f2a640" stroke-width="0.75"/>
<line x1="191.05" y1="451.80" x2="194.45" y2="451.80" stroke="#f2a640" stroke-width="0.6"/>
<circle cx="192.75" cy="413.20" r="1.45" fill="#f2a640"/>
<circle cx="192.75" cy="438.20" r="1.45" fill="#f2a640"/>
<circle cx="192.75" cy="449.20" r="1.45" fill="#f2a640"/>
<circle cx="192.75" cy="454.80" r="1.45" fill="#f2a640"/>
<rect x="206.30" y="407.70" width="10.70" height="57.30" fill="#a0a9b5"/>
<line x1="211.65" y1="416.90" x2="211.65" y2="398.50" stroke="#6e7888" stroke-width="0.7"/>
<line x1="209.95" y1="398.50" x2="213.35" y2="398.50" stroke="#6e7888" stroke-width="0.75"/>
<line x1="209.95" y1="416.90" x2="213.35" y2="416.90" stroke="#6e7888" stroke-width="0.6"/>
<circle cx="207.20" cy="394.40" r="1.45" fill="#6e7888"/>
<circle cx="215.40" cy="392.00" r="1.45" fill="#6e7888"/>
<circle cx="211.65" cy="411.40" r="1.45" fill="#6e7888"/>
<circle cx="211.65" cy="431.70" r="1.45" fill="#6e7888"/>
<circle cx="211.65" cy="387.80" r="0.75" fill="#222"/>
<rect x="219.20" y="442.40" width="10.50" height="22.60" fill="#fcca7e"/>
<line x1="224.45" y1="449.40" x2="224.45" y2="435.40" stroke="#f2a640" stroke-width="0.7"/>
<line x1="222.75" y1="435.40" x2="226.15" y2="435.40" stroke="#f2a640" stroke-width="0.75"/>
<line x1="222.75" y1="449.40" x2="226.15" y2="449.40" stroke="#f2a640" stroke-width="0.6"/>
<circle cx="224.45" cy="424.30" r="1.45" fill="#f2a640"/>
<circle cx="224.45" cy="446.50" r="1.45" fill="#f2a640"/>
<circle cx="224.45" cy="454.80" r="1.45" fill="#f2a640"/>
<line x1="136.50" y1="380.00" x2="136.50" y2="468.00" stroke="#333" stroke-width="0.8" stroke-dasharray="1.2,1.0"/>
<text x="88.00" y="492.89" font-size="7.2" text-anchor="middle" fill="#1a1a1a" textLength="33.5" lengthAdjust="spacingAndGlyphs" stroke="#1a1a1a" stroke-width="0.35">Thr (mU/mL)</text>
<text x="185.90" y="492.79" font-size="7.2" text-anchor="middle" fill="#1a1a1a" textLength="33.5" lengthAdjust="spacingAndGlyphs" stroke="#1a1a1a" stroke-width="0.35">CRP (µg/mL)</text>
<text x="69.30" y="35.26" font-size="6.0" text-anchor="middle" fill="#2a2a2a" font-weight="bold" stroke="#2a2a2a" stroke-width="0.3">#</text>
<line x1="64.80" y1="38.90" x2="74.10" y2="38.90" stroke="#555" stroke-width="1.1"/>
<text x="92.50" y="35.26" font-size="6.0" text-anchor="middle" fill="#2a2a2a" font-weight="bold" stroke="#2a2a2a" stroke-width="0.3">#</text>
<line x1="88.00" y1="38.90" x2="97.50" y2="38.90" stroke="#555" stroke-width="1.1"/>
<text x="248.70" y="31.86" font-size="6.0" text-anchor="middle" fill="#2a2a2a" font-weight="bold" stroke="#2a2a2a" stroke-width="0.3">#</text>
<line x1="243.90" y1="33.90" x2="253.30" y2="33.90" stroke="#555" stroke-width="1.1"/>
<text x="310.20" y="31.86" font-size="6.0" text-anchor="middle" fill="#2a2a2a" font-weight="bold" stroke="#2a2a2a" stroke-width="0.3">#</text>
<line x1="305.50" y1="33.90" x2="315.30" y2="33.90" stroke="#555" stroke-width="1.1"/>
<text x="341.20" y="31.86" font-size="6.0" text-anchor="middle" fill="#2a2a2a" font-weight="bold" stroke="#2a2a2a" stroke-width="0.3">#</text>
<line x1="336.40" y1="33.90" x2="346.00" y2="33.90" stroke="#555" stroke-width="1.1"/>
<text x="197.90" y="221.86" font-size="6.0" text-anchor="middle" fill="#2a2a2a" font-weight="bold" stroke="#2a2a2a" stroke-width="0.3">#</text>
<line x1="193.20" y1="225.90" x2="202.90" y2="225.90" stroke="#555" stroke-width="1.1"/>
<text x="221.30" y="221.86" font-size="6.0" text-anchor="middle" fill="#2a2a2a" font-weight="bold" stroke="#2a2a2a" stroke-width="0.3">#</text>
<line x1="216.30" y1="225.90" x2="225.90" y2="225.90" stroke="#555" stroke-width="1.1"/>
<text x="118.90" y="420.66" font-size="6.0" text-anchor="middle" fill="#2a2a2a" font-weight="bold" stroke="#2a2a2a" stroke-width="0.3">#</text>
<line x1="114.10" y1="423.40" x2="123.80" y2="423.40" stroke="#555" stroke-width="1.1"/>
<text x="216.30" y="371.36" font-size="6.0" text-anchor="middle" fill="#2a2a2a" font-weight="bold" stroke="#2a2a2a" stroke-width="0.3">#</text>
<line x1="212.00" y1="374.50" x2="221.60" y2="374.50" stroke="#555" stroke-width="1.1"/>
<text x="249.37" y="351.50" font-size="10.6" font-weight="bold" fill="#000" stroke="#000" stroke-width="0.3">G</text>
<text transform="translate(259.20,424.00) rotate(-90)" x="0" y="2.45" font-size="6.8" text-anchor="middle" fill="#1a1a1a" textLength="55.5" lengthAdjust="spacingAndGlyphs" stroke="#1a1a1a" stroke-width="0.3">ATP release (nmoles)</text>
<line x1="283.70" y1="378.80" x2="283.70" y2="470.00" stroke="#1a1a1a" stroke-width="1.25"/>
<line x1="283.20" y1="469.50" x2="320.00" y2="469.50" stroke="#1a1a1a" stroke-width="1.25"/>
<line x1="281.40" y1="381.50" x2="283.70" y2="381.50" stroke="#1a1a1a" stroke-width="0.8"/>
<line x1="281.40" y1="469.50" x2="283.70" y2="469.50" stroke="#1a1a1a" stroke-width="0.8"/>
<text x="272.40" y="383.88" font-size="6.6" text-anchor="middle" fill="#222" textLength="8.07" lengthAdjust="spacingAndGlyphs" stroke="#222" stroke-width="0.14">0.8</text>
<text x="275.20" y="472.08" font-size="6.6" text-anchor="middle" fill="#222" textLength="3.23" lengthAdjust="spacingAndGlyphs" stroke="#222" stroke-width="0.14">0</text>
<line x1="316.10" y1="469.50" x2="316.10" y2="472.00" stroke="#1a1a1a" stroke-width="0.8"/>
<line x1="283.70" y1="469.50" x2="283.70" y2="472.00" stroke="#1a1a1a" stroke-width="0.8"/>
<text x="283.90" y="481.38" font-size="6.6" text-anchor="middle" fill="#222" textLength="3.23" lengthAdjust="spacingAndGlyphs" stroke="#222" stroke-width="0.14">0</text>
<text x="316.10" y="481.38" font-size="6.6" text-anchor="middle" fill="#222" textLength="3.23" lengthAdjust="spacingAndGlyphs" stroke="#222" stroke-width="0.14">2</text>
<text x="289.50" y="365.76" font-size="6.0" text-anchor="middle" fill="#1a1a1a" textLength="27.0" lengthAdjust="spacingAndGlyphs" stroke="#1a1a1a" stroke-width="0.1">20mU/mL</text>
<text x="289.90" y="373.66" font-size="6.0" text-anchor="middle" fill="#1a1a1a" stroke="#1a1a1a" stroke-width="0.1">Thr</text>
<line x1="289.50" y1="376.00" x2="289.50" y2="383.00" stroke="#000" stroke-width="0.9"/>
<path d="M287.5,382.0 L291.5,382.0 L289.5,386.5 Z" fill="#000"/>
<path d="M296.3,469 L296.3,436.9" stroke="#c8bcbc" stroke-width="0.7" fill="none" stroke-linejoin="round" stroke-linecap="round"/>
<path d="M296.3,436.9 C297.5,438.5 298.5,440 299.5,441.5 C301,443.8 303,446.2 305,447.8 C306.2,448.8 307.2,449.5 308.1,450" stroke="#9a9a9a" stroke-width="0.8" fill="none" stroke-linejoin="round" stroke-linecap="round"/>
<path d="M296.3,462.4 C298,463 300,463.5 302,463.9 L305.2,464.4" stroke="#c07a62" stroke-width="0.8" fill="none" stroke-linejoin="round" stroke-linecap="round"/>
<line x1="296.30" y1="462.40" x2="296.30" y2="469.00" stroke="#f0b090" stroke-width="0.8"/>
<text x="311.80" y="454.27" font-size="6.3" text-anchor="start" fill="#1a1a1a" stroke="#1a1a1a" stroke-width="0.1">ACC1<tspan font-size="4.4" dy="-2.1" textLength="7.4" lengthAdjust="spacingAndGlyphs">fl/fl</tspan></text>
<text x="308.60" y="465.70" font-size="6.4" text-anchor="start" fill="#f5bc78" stroke="#f5bc78" stroke-width="0.05">ACC1 pKO</text>
<line x1="362.60" y1="379.90" x2="362.60" y2="470.10" stroke="#1a1a1a" stroke-width="1.25"/>
<line x1="362.10" y1="469.60" x2="398.00" y2="469.60" stroke="#1a1a1a" stroke-width="1.25"/>
<line x1="360.30" y1="381.50" x2="362.60" y2="381.50" stroke="#1a1a1a" stroke-width="0.8"/>
<line x1="360.30" y1="469.60" x2="362.60" y2="469.60" stroke="#1a1a1a" stroke-width="0.8"/>
<text x="351.70" y="383.88" font-size="6.6" text-anchor="middle" fill="#222" textLength="8.07" lengthAdjust="spacingAndGlyphs" stroke="#222" stroke-width="0.14">2.5</text>
<text x="354.60" y="472.08" font-size="6.6" text-anchor="middle" fill="#222" textLength="3.23" lengthAdjust="spacingAndGlyphs" stroke="#222" stroke-width="0.14">0</text>
<line x1="396.30" y1="469.60" x2="396.30" y2="472.10" stroke="#1a1a1a" stroke-width="0.8"/>
<line x1="362.60" y1="469.60" x2="362.60" y2="472.10" stroke="#1a1a1a" stroke-width="0.8"/>
<text x="363.10" y="481.18" font-size="6.6" text-anchor="middle" fill="#222" textLength="3.23" lengthAdjust="spacingAndGlyphs" stroke="#222" stroke-width="0.14">0</text>
<text x="396.30" y="481.18" font-size="6.6" text-anchor="middle" fill="#222" textLength="3.23" lengthAdjust="spacingAndGlyphs" stroke="#222" stroke-width="0.14">2</text>
<text x="369.00" y="362.16" font-size="6.0" text-anchor="middle" fill="#1a1a1a" textLength="26.3" lengthAdjust="spacingAndGlyphs" stroke="#1a1a1a" stroke-width="0.1">0.1µg/mL</text>
<text x="369.30" y="370.06" font-size="6.0" text-anchor="middle" fill="#1a1a1a" stroke="#1a1a1a" stroke-width="0.1">CRP</text>
<line x1="369.40" y1="372.00" x2="369.40" y2="378.50" stroke="#000" stroke-width="0.9"/>
<path d="M367.4,377.5 L371.4,377.5 L369.4,382.0 Z" fill="#000"/>
<path d="M377.0,469 L377.0,414.3" stroke="#c8bcbc" stroke-width="0.7" fill="none" stroke-linejoin="round" stroke-linecap="round"/>
<path d="M377.0,414.3 C378.5,417 380,420 382,423 C384.5,426.5 387,429 389.8,430.8" stroke="#9a9a9a" stroke-width="0.8" fill="none" stroke-linejoin="round" stroke-linecap="round"/>
<line x1="376.60" y1="450.80" x2="376.60" y2="469.00" stroke="#e89a84" stroke-width="0.8"/>
<path d="M376.6,450.8 C378.5,452.5 381,454.5 383,455.5 L385.8,456.5" stroke="#d0826a" stroke-width="0.8" fill="none" stroke-linejoin="round" stroke-linecap="round"/>
<text x="394.30" y="435.27" font-size="6.3" text-anchor="start" fill="#1a1a1a" stroke="#1a1a1a" stroke-width="0.1">ACC1<tspan font-size="4.4" dy="-2.1" textLength="7.4" lengthAdjust="spacingAndGlyphs">fl/fl</tspan></text>
<text x="390.60" y="459.90" font-size="6.4" text-anchor="start" fill="#f5bc78" stroke="#f5bc78" stroke-width="0.05">ACC1 pKO</text>
<text x="346.30" y="492.79" font-size="7.2" text-anchor="middle" fill="#1a1a1a" textLength="39.5" lengthAdjust="spacingAndGlyphs" stroke="#1a1a1a" stroke-width="0.35">Time (minutes)</text>
</svg>
</body></html>
